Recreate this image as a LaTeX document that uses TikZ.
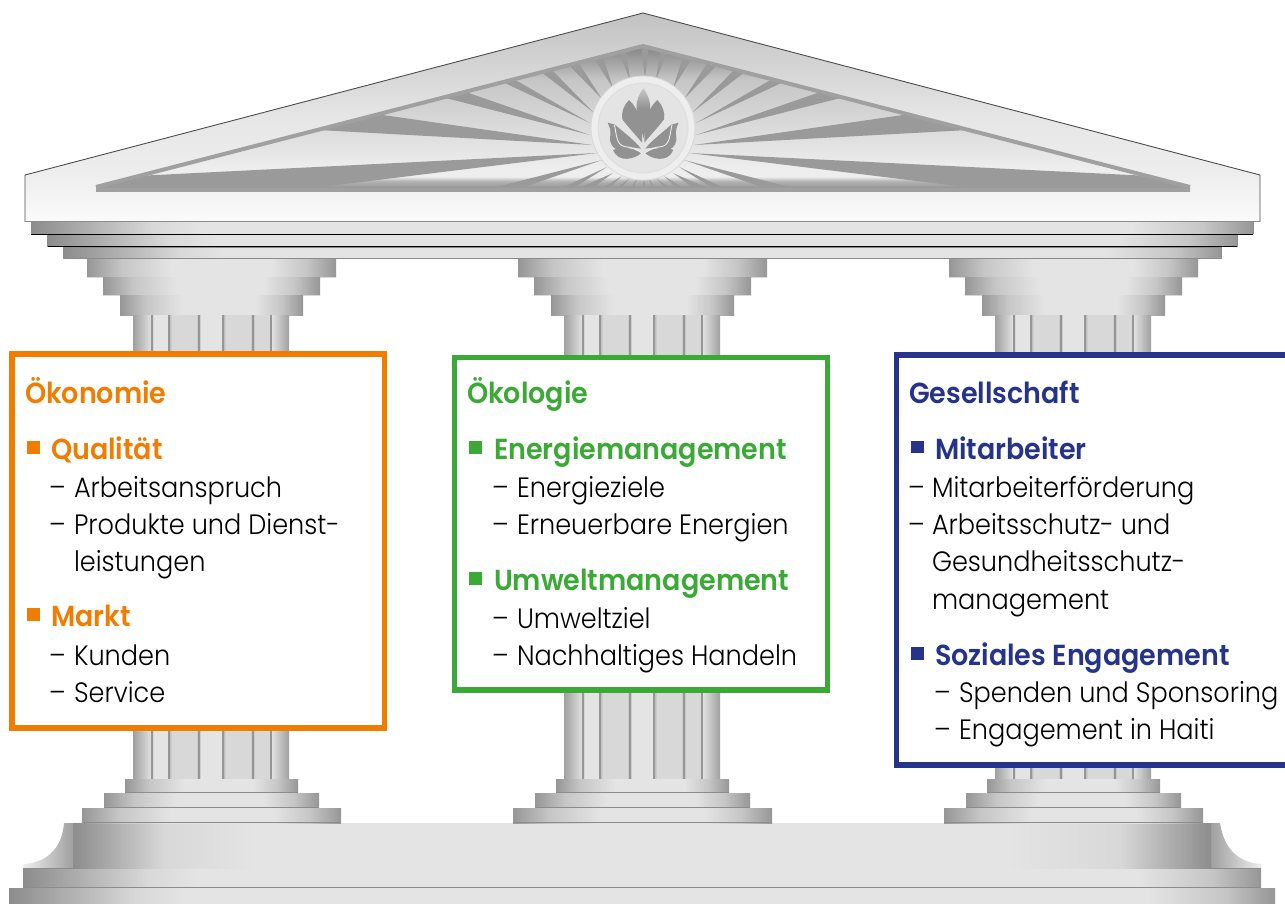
\documentclass[tikz,border=0pt]{standalone}
\usepackage{fontspec}
\newfontfamily\bodyf[FakeStretch=0.913]{Poppins Light}
\newfontfamily\headf[FakeStretch=0.93]{Poppins SemiBold}
\definecolor{orgc}{HTML}{F07D00}
\definecolor{grnc}{HTML}{3BA935}
\definecolor{bluc}{HTML}{25338B}
\definecolor{rayc}{HTML}{9A9A9A}
\definecolor{petc}{HTML}{929292}
\definecolor{g8}{HTML}{8C8C8C}
\definecolor{g9}{HTML}{969696}
\definecolor{ga}{HTML}{A0A0A0}
\definecolor{gb}{HTML}{B4B4B4}
\definecolor{gc}{HTML}{C6C6C6}
\definecolor{gd}{HTML}{D8D8D8}
\definecolor{ge}{HTML}{E3E4E3}
\definecolor{gf}{HTML}{EEEEEE}
\definecolor{gt}{HTML}{C2C2C2}
\definecolor{gm}{HTML}{E6E6E6}
\definecolor{gw}{HTML}{FBFBFB}
\pgfdeclarehorizontalshading{capshade}{100bp}{color(0bp)=(g9);color(25bp)=(g9);color(32bp)=(gc);color(42bp)=(ge);color(62bp)=(ge);color(69bp)=(gc);color(75bp)=(g9);color(100bp)=(g9)}
\pgfdeclarehorizontalshading{bandshade}{100bp}{color(0bp)=(g8);color(25bp)=(g8);color(30bp)=(gd);color(32bp)=(ge);color(70bp)=(ge);color(73bp)=(gc);color(75bp)=(g9);color(100bp)=(g9)}
\pgfdeclarehorizontalshading{plinthshade}{100bp}{color(0bp)=(g8);color(25bp)=(g8);color(29bp)=(gd);color(33bp)=(ge);color(66bp)=(ge);color(71bp)=(gd);color(75bp)=(g8);color(100bp)=(g8)}
\pgfdeclarehorizontalshading{fluteshade}{100bp}{color(0bp)=(gb);color(25bp)=(gb);color(29bp)=(ge);color(71bp)=(ge);color(75bp)=(gb);color(100bp)=(gb)}
\pgfdeclarehorizontalshading{flutedark}{100bp}{color(0bp)=(gb);color(25bp)=(gb);color(30bp)=(gd);color(70bp)=(gd);color(75bp)=(gb);color(100bp)=(gb)}
\pgfdeclareverticalshading{tympshade}{100bp}{color(0bp)=(g8);color(26bp)=(g8);color(29bp)=(gb);color(30.5bp)=(gf);color(33bp)=(gf);color(49bp)=(gd);color(63bp)=(gc);color(73bp)=(g8);color(100bp)=(g8)}
\pgfdeclareverticalshading{pedshade}{100bp}{color(0bp)=(gw);color(25bp)=(gw);color(36bp)=(gf);color(50bp)=(gm);color(75bp)=(gt);color(100bp)=(gt)}
\pgfdeclareverticalshading{petalshade}{100bp}{color(0bp)=(petc);color(25bp)=(petc);color(55bp)=(petc);color(75bp)=(gc);color(100bp)=(gc)}
\tikzset{
  capbar/.style={shading=capshade},
  bandbar/.style={shading=bandshade},
  flute/.style={shading=fluteshade},
  flutedk/.style={shading=flutedark},
  groove/.style={draw=g9,line width=1.5pt},
  paneltext/.style={anchor=base west,inner sep=0pt,outer sep=0pt,font=\bodyf\fontsize{28}{32}\selectfont,text=black},
  panelhead/.style={anchor=base west,inner sep=0pt,outer sep=0pt,font=\headf\fontsize{29}{33}\selectfont},
  panelbox/.style={fill=white,line width=5.5pt,line join=miter},
  ray/.style={fill=rayc},
  petal/.style={fill=petc},
  petalline/.style={draw=gf,line width=.9pt,fill=none}
}
\newcommand{\pillar}[1]{%
  \begin{scope}[shift={(#1,0)}]
    \shade[capbar] (87,258) rectangle (336,277);
    \draw[gd,line width=.8pt] (87,277) -- (336,277);
    \shade[capbar] (103,277) rectangle (320,295);
    \draw[gd,line width=.8pt] (103,295) -- (320,295);
    \shade[capbar] (120,295) rectangle (303,315);
    \shade[left color=ga,right color=ge] (133,315) rectangle (152,779);
    \shade[flute] (152,315) rectangle (169,779);
    \shade[flutedk] (169,315) rectangle (199,779);
    \shade[flute] (199,315) rectangle (223,779);
    \shade[flutedk] (223,315) rectangle (253,779);
    \shade[flutedk] (253,315) rectangle (271,779);
    \shade[left color=ge,right color=ga] (271,315) rectangle (289,779);
    \foreach \gx in {152,169,199,223,253,271} \draw[groove] (\gx,315) -- (\gx,779);
    \shade[capbar] (125,779) rectangle (298,793);
    \draw[g8,line width=1.2pt] (125,792.5) -- (298,792.5);
    \shade[capbar] (104,793) rectangle (319,808);
    \draw[g8,line width=1.2pt] (104,807.5) -- (319,807.5);
    \shade[capbar] (82,808) rectangle (341,823);
    \draw[g8,line width=1.2pt] (82,822.5) -- (341,822.5);
  \end{scope}}
\newcommand{\lotushalf}{%
  \fill[petal] (68,158) -- (90,164) .. controls (115,186) and (150,212) .. (168,236) .. controls (140,230) and (115,232) .. (100,240) .. controls (82,236) and (70,215) .. (76,195) .. controls (78,180) and (73,170) .. (68,158) -- cycle;
  \fill[petal] (84,240) .. controls (105,230) and (145,232) .. (170,248) .. controls (150,268) and (100,280) .. (84,240) -- cycle;
  \fill[petal] (132,90) .. controls (116,106) and (108,128) .. (112,148) .. controls (130,172) and (155,198) .. (171,218) .. controls (172,175) and (167,120) .. (132,90) -- cycle;
  \draw[petalline] (88,165) .. controls (95,190) and (92,225) .. (120,230) .. controls (140,230) and (155,240) .. (172,250);
}
\newcommand{\rayset}{%
    \fill[ray] (618,50) -- (626,50) -- (630,80) -- cycle;
    \fill[ray] (593,57) -- (603,57) -- (613,88) -- cycle;
    \fill[ray] (566,62) -- (578,62) -- (602,99) -- cycle;
    \fill[ray] (536,68) -- (550,68) -- (593,112) -- cycle;
    \fill[ray] (494,78) -- (512,78) -- (590,123) -- cycle;
    \fill[ray] (434,95) -- (460,90) -- (590,135) -- cycle;
    \fill[ray] (362,112) -- (318,130) -- (592,145) -- cycle;
    \fill[ray] (96,178) -- (96,192) -- (280,192) -- (597,153) -- cycle;
    \fill[ray] (477,192) -- (510,192) -- (602,160) -- cycle;
    \fill[ray] (553,192) -- (567,192) -- (607,167) -- cycle;
    \fill[ray] (570,192) -- (587,192) -- (613,173) -- cycle;
    \fill[ray] (596,192) -- (605,192) -- (622,176) -- cycle;
    \fill[ray] (611,192) -- (617,192) -- (630,178) -- cycle;
    \fill[ray] (628,192) -- (632,192) -- (637,179) -- cycle;
}
\begin{document}
\begin{tikzpicture}[x=1pt,y=-1pt]
\useasboundingbox (0,0) rectangle (1285,904);
% plinth and steps
\path[left color=gf,right color=ga] (73,823) -- (64,823) .. controls (62,850) and (45,863) .. (23,864) -- (23,869) -- (73,869) -- cycle;
\path[left color=ga,right color=gf] (1211,823) -- (1220,823) .. controls (1224,850) and (1240,863) .. (1261,864) -- (1261,869) -- (1211,869) -- cycle;
\shade[shading=plinthshade] (73,823) rectangle (1211,869);
\draw[g8,line width=1pt] (23,868.5) -- (73,868.5);
\draw[g8,line width=1pt] (1211,868.5) -- (1261,868.5);
\shade[shading=bandshade] (23,869) rectangle (1261,888);
\draw[g8,line width=1.2pt] (23,887.3) -- (1261,887.3);
\shade[shading=bandshade] (9,888) rectangle (1275,904);
% pillars
\pillar{0}
\pillar{431}
\pillar{862}
% entablature bands
\shade[bandbar] (63,247) rectangle (1221,258);
\draw[g8,line width=1pt] (63,247) rectangle (1221,258);
\shade[bandbar] (47,235) rectangle (1237,246.5);
\draw[black,line width=1pt] (47,246.5) -- (1237,246.5);
\draw[g8,line width=.8pt] (47,235) -- (47,246.5) (1237,235) -- (1237,246.5);
\shade[bandbar] (31,222) rectangle (1253,234.5);
\draw[black,line width=1pt] (31,234.5) -- (1253,234.5);
\draw[g8,line width=.8pt] (31,222) -- (31,234.5) (1253,222) -- (1253,234.5);
% pediment
\shade[shading=pedshade] (25,175) -- (643,13) -- (1260,175) -- (1260,222) -- (25,222) -- cycle;
\draw[black!70,line width=.9pt] (25,222) -- (25,175) -- (643,13) -- (1260,175) -- (1260,222);
\draw[g8,line width=1pt] (25,222) -- (1260,222);
% tympanum
\begin{scope}
  \clip (96,187) -- (643,47) -- (1190,187) -- (1190,192) -- (96,192) -- cycle;
  \shade[shading=tympshade] (90,44) rectangle (1196,193);
  \rayset
  \begin{scope}[shift={(1286,0)},xscale=-1]
    \rayset
  \end{scope}
  \fill[ray] (641,44) -- (649,44) -- (645,78) -- cycle;
  \fill[ray] (641,192) -- (647,192) -- (644,180) -- cycle;
  \fill[ga] (90,188.5) rectangle (1196,193);
\end{scope}
\draw[ga,line width=4pt] (96,187) -- (643,46) -- (1190,187);
% medallion
\fill[gf,draw=gd,line width=.8pt] (643,128) circle (52);
\fill[gd!70!gf] (643,128) circle (45.5);
\fill[ge] (643,128) circle (44);
\begin{scope}[shift={(585,70)},scale=1/3]
  \shade[shading=petalshade] (175,55) .. controls (160,75) and (152,100) .. (155,120) .. controls (158,150) and (170,180) .. (175,205) .. controls (180,180) and (192,150) .. (195,120) .. controls (198,100) and (190,75) .. (175,55) -- cycle;
  \lotushalf
  \begin{scope}[shift={(349,0)},xscale=-1]
    \lotushalf
  \end{scope}
\end{scope}
% panels
\draw[panelbox,draw=orgc] (12,354) rectangle (384.5,728);
\draw[panelbox,draw=grnc] (454.5,357.5) rectangle (827.5,690);
\draw[panelbox,draw=bluc] (896.5,355) rectangle (1295,765);
% orange text
\node[panelhead,text=orgc] (oa) at (25,403) {Ökonomie};
\fill[orgc] (27,441) rectangle (39.5,454);
\node[panelhead,text=orgc] (ob) at (51,459) {Qualität};
\node[paneltext] (oc) at (49,497) {–};
\node[paneltext] (od) at (74,497) {Arbeitsanspruch};
\node[paneltext] (oe) at (49,534) {–};
\node[paneltext] (of) at (74,534) {Produkte und Dienst-};
\node[paneltext] (og) at (74,571) {leistungen};
\fill[orgc] (27,608) rectangle (39.5,621);
\node[panelhead,text=orgc] (oh) at (51,626) {Markt};
\node[paneltext] (oi) at (49,665) {–};
\node[paneltext] (oj) at (74,665) {Kunden};
\node[paneltext] (ok) at (49,702) {–};
\node[paneltext] (ol) at (74,702) {Service};
% green text
\node[panelhead,text=grnc] (ga) at (467,403) {Ökologie};
\fill[grnc] (469,441) rectangle (482,454);
\node[panelhead,text=grnc] (gb) at (494,459) {Energiemanagement};
\node[paneltext] (gc) at (492,497) {–};
\node[paneltext] (gd) at (517,497) {Energieziele};
\node[paneltext] (ge) at (492,534) {–};
\node[paneltext] (gf) at (517,534) {Erneuerbare Energien};
\fill[grnc] (469,572) rectangle (482,585);
\node[panelhead,text=grnc] (gg) at (494,590) {Umweltmanagement};
\node[paneltext] (gh) at (492,628) {–};
\node[paneltext] (gi) at (517,628) {Umweltziel};
\node[paneltext] (gj) at (492,665) {–};
\node[paneltext] (gk) at (517,665) {Nachhaltiges Handeln};
% blue text
\node[panelhead,text=bluc] (ba) at (909,403) {Gesellschaft};
\fill[bluc] (911,441) rectangle (924,453);
\node[panelhead,text=bluc] (bb) at (935,459) {Mitarbeiter};
\node[paneltext] (bc) at (908,497) {–};
\node[paneltext] (bd) at (932,497) {Mitarbeiterförderung};
\node[paneltext] (be) at (908,534) {–};
\node[paneltext] (bf) at (932,534) {Arbeitsschutz- und};
\node[paneltext] (bg) at (932,571) {Gesundheitsschutz-};
\node[paneltext] (bh) at (932,609) {management};
\fill[bluc] (911,647) rectangle (924,660);
\node[panelhead,text=bluc] (bi) at (935,665) {Soziales Engagement};
\node[paneltext] (bj) at (934,702) {–};
\node[paneltext] (bk) at (959,702) {Spenden und Sponsoring};
\node[paneltext] (bl) at (934,739) {–};
\node[paneltext] (bm) at (959,739) {Engagement in Haiti};
\end{tikzpicture}
\end{document}
